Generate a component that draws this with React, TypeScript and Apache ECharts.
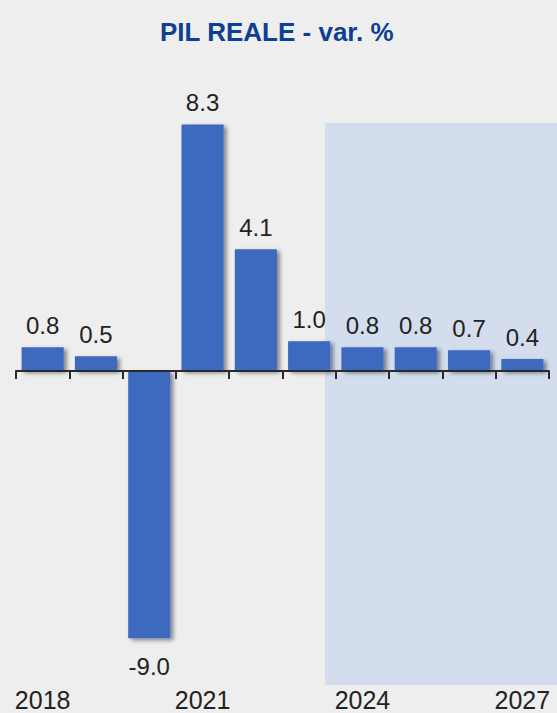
import React, { useEffect, useRef } from "react";
import * as echarts from "echarts";

const years = ["2018", "2019", "2020", "2021", "2022", "2023", "2024", "2025", "2026", "2027"];
const gdpGrowth = [0.8, 0.5, -9.0, 8.3, 4.1, 1.0, 0.8, 0.8, 0.7, 0.4];
const titleText = "PIL REALE - var. %";

const FONT = "'Liberation Sans', Arial, Helvetica, sans-serif";

export default function App() {
  const ref = useRef<HTMLDivElement>(null);
  useEffect(() => {
    if (!ref.current) return;
    const chart = echarts.init(ref.current, null, { renderer: "svg" });
    chart.setOption({
      animation: false,
      backgroundColor: "#eeeeee",
      title: {
        text: titleText,
        left: 155,
        top: 14,
        textStyle: { color: "#0d3f93", fontSize: 26, fontWeight: "bold", fontFamily: FONT },
      },
      graphic: [
        {
          type: "rect",
          z: 0,
          shape: { x: 325, y: 123, width: 232, height: 562 },
          style: { fill: "#d3ddee" },
          silent: true,
        },
      ],
      grid: { left: 16, right: 8, top: 103.7, bottom: 45, containLabel: false },
      xAxis: [
        {
          type: "category",
          data: years,
          axisLine: { onZero: true, lineStyle: { color: "#2a2a2a", width: 2 } },
          axisTick: { show: true, length: 8, inside: false, lineStyle: { color: "#2a2a2a", width: 2 } },
          axisLabel: { show: false },
          splitLine: { show: false },
          z: 3,
        },
        {
          type: "category",
          data: years,
          position: "bottom",
          axisLine: { show: false, onZero: false },
          axisTick: { show: false },
          axisLabel: {
            show: true,
            interval: 2,
            margin: 19,
            color: "#222",
            fontSize: 25,
            fontFamily: FONT,
          },
        },
      ],
      yAxis: { type: "value", min: -10, max: 9, show: false, splitLine: { show: false } },
      series: [
        {
          type: "bar",
          data: gdpGrowth.map((v) => ({
            value: v,
            label: { position: v < 0 ? "bottom" : "top", distance: v < 0 ? 16 : 10 },
          })),
          xAxisIndex: 0,
          barCategoryGap: "21%",
          itemStyle: {
            color: "#3e69be",
            shadowColor: "rgba(0,0,0,0.45)",
            shadowBlur: 4,
            shadowOffsetX: 3,
            shadowOffsetY: 2,
          },
          label: {
            show: true,
            color: "#222",
            fontSize: 24,
            fontFamily: FONT,
            formatter: (p: any) => Number(p.value).toFixed(1),
          },
          z: 2,
        },
      ],
    });
    return () => chart.dispose();
  }, []);
  return (
    <div
      ref={ref}
      style={{ position: "absolute", left: 0, top: 0, width: 557, height: 713 }}
    />
  );
}
